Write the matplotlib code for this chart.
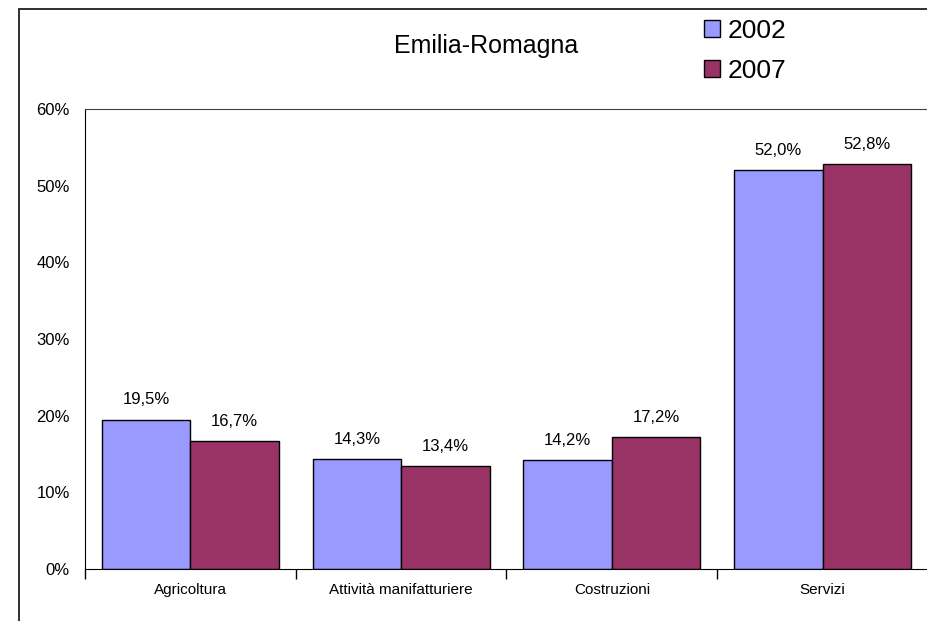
"""Bar chart: Emilia-Romagna sector shares, 2002 vs 2007."""

import matplotlib

matplotlib.use("Agg")
import matplotlib.pyplot as plt
import numpy as np
from matplotlib.patches import Patch
from matplotlib.ticker import FuncFormatter

categories = ["Agricoltura", "Attività manifatturiere", "Costruzioni", "Servizi"]
years = ["2002", "2007"]
values_2002 = [19.5, 14.3, 14.2, 52.0]
values_2007 = [16.7, 13.4, 17.2, 52.8]
yticks = [0, 10, 20, 30, 40, 50, 60]

COLORS = {"2002": "#9999FF", "2007": "#993366"}

plt.rcParams["font.family"] = ["Liberation Sans", "DejaVu Sans"]

W, H = 928, 621
fig = plt.figure(figsize=(W / 100, H / 100), dpi=100)
fig.patch.set_facecolor("white")

# outer chart frame (cropped on right and bottom)
frame = plt.Rectangle((19 / W, -0.1), 1.2, 1 - 9 / H + 0.1, transform=fig.transFigure,
                      fill=False, edgecolor="#202020", linewidth=1.3, clip_on=False)
fig.add_artist(frame)

left, right = 85 / W, 1.0
bottom, top = 1 - 569 / H, 1 - 109 / H
ax = fig.add_axes([left, bottom, right - left, top - bottom])

x = np.arange(len(categories))
bw = 0.42
bars1 = ax.bar(x - bw / 2, values_2002, bw, color=COLORS["2002"], edgecolor="black", linewidth=1)
bars2 = ax.bar(x + bw / 2, values_2007, bw, color=COLORS["2007"], edgecolor="black", linewidth=1)

for bars, vals in ((bars1, values_2002), (bars2, values_2007)):
    for b, v in zip(bars, vals):
        ax.annotate(f"{v:.1f}".replace(".", ",") + "%",
                    (b.get_x() + b.get_width() / 2, v),
                    xytext=(0, 11), textcoords="offset points",
                    ha="center", va="baseline", fontsize=12)

# each category is 213 px wide; the plot area runs past the right edge
ax.set_xlim(-0.5, -0.5 + (W - 85) / 213)
ax.set_ylim(0, 60)

ax.set_xticks(np.arange(len(categories) + 1) - 0.5)
ax.set_xticklabels([])
ax.set_xticks(x, minor=True)
ax.set_xticklabels(categories, minor=True, fontsize=11)
ax.tick_params(axis="x", which="major", length=7, width=1, direction="out")
ax.tick_params(axis="x", which="minor", length=0, pad=10)

ax.set_yticks(yticks)
ax.yaxis.set_major_formatter(FuncFormatter(lambda v, _: f"{v:.0f}%"))
ax.tick_params(axis="y", length=0, pad=11, labelsize=12)

ax.spines["right"].set_visible(False)
ax.spines["top"].set_color("#404040")
for s in ("left", "bottom"):
    ax.spines[s].set_color("black")

fig.text(486 / W, 1 - 46 / H, "Emilia-Romagna", ha="center", va="center", fontsize=18)

handles = [Patch(facecolor=COLORS[y], edgecolor="black", linewidth=1) for y in years]
fig.legend(handles, years, loc="upper left", bbox_to_anchor=(704 / W, 1 - 19 / H),
           frameon=False, fontsize=19, handlelength=0.6, handleheight=0.6,
           handletextpad=0.3, labelspacing=0.6, borderpad=0, borderaxespad=0)

fig.savefig("out.png", dpi=100)
